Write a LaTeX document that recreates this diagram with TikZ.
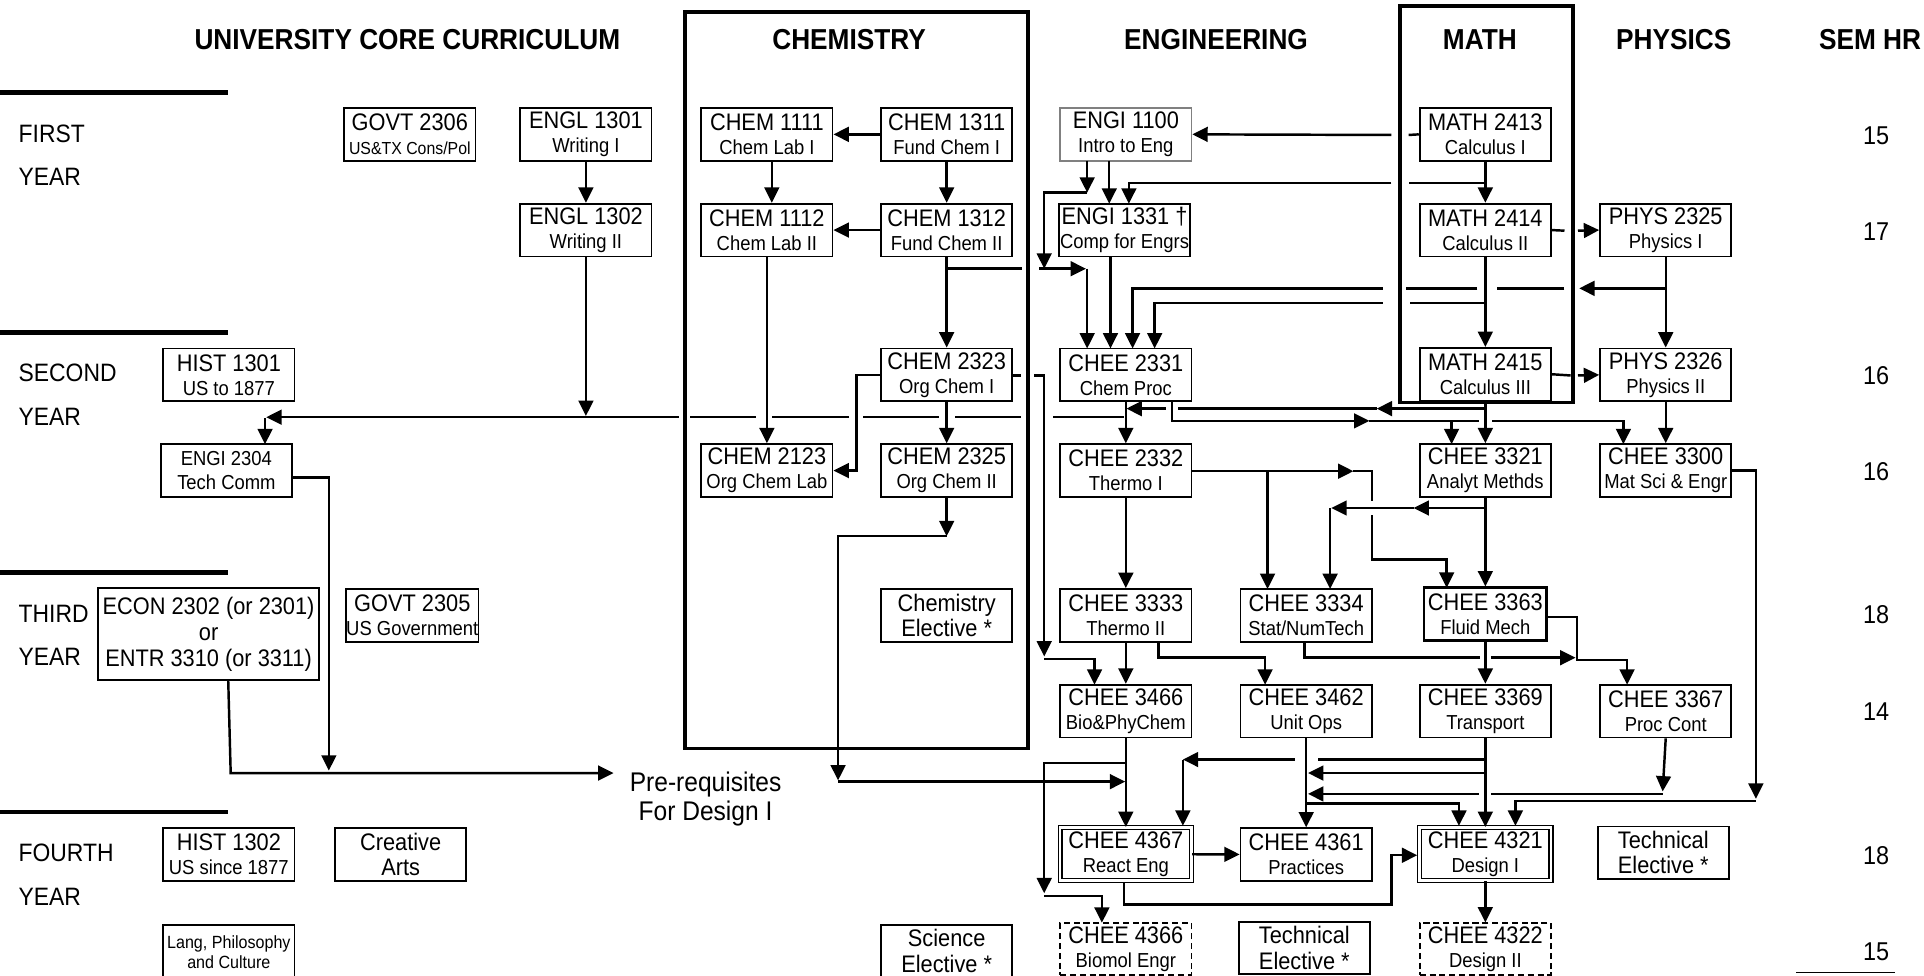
\documentclass[tikz,border=0pt]{standalone}
\usepackage{fontspec}
\setmainfont[FakeStretch=0.91]{Liberation Sans}
\usetikzlibrary{arrows.meta}
\newcommand\cT[1]{{\fontsize{19.5}{19.5}\selectfont #1}}
\newcommand\sm[1]{{\fontsize{14.2}{19.5}\selectfont #1}}
\tikzset{
 box/.style={draw, line width=1.5pt, minimum width=107pt, minimum height=43pt, inner sep=0pt, align=center, font=\fontsize{16.5}{19.5}\selectfont},
 bigtxt/.style={font=\fontsize{19.5}{20.5}\selectfont},
 dbox/.style={box, double, double distance=2pt, line width=1.1pt},
 dashbox/.style={box, dash pattern=on 5pt off 3pt},
 conn/.style={line width=2pt},
 arr/.style={line width=2pt, -{Triangle[length=12.5pt,width=12pt]}},
 hdr/.style={font=\bfseries\fontsize{23.5}{23.5}\selectfont, inner sep=0pt},
 yr/.style={font=\fontsize{20.5}{20.5}\selectfont, anchor=west, inner sep=0pt},
 hrs/.style={font=\fontsize{21}{21}\selectfont, inner sep=0pt},
 dept/.style={line width=3pt},
 ydiv/.style={line width=3.5pt},
}
\begin{document}
\begin{tikzpicture}[x=1pt,y=-1pt]
\useasboundingbox (0,0) rectangle (1568,795);

% headers
\node[hdr] (hU) at (332,32) {UNIVERSITY CORE CURRICULUM};
\node[hdr] (hC) at (692,32) {CHEMISTRY};
\node[hdr] (hE) at (991,32) {ENGINEERING};
\node[hdr] (hM) at (1206,32) {MATH};
\node[hdr] (hP) at (1364,32) {PHYSICS};
\node[hdr] (hS) at (1524,32) {SEM HR};

% department frames
\draw[dept] (558,10) rectangle (838,610);
\draw[dept] (1141,5) rectangle (1282,328);

% year dividers and labels
\draw[ydiv] (0,75.5) -- (186,75.5);
\draw[ydiv] (0,271) -- (186,271);
\draw[ydiv] (0,466.5) -- (186,466.5);
\draw[ydiv] (0,662) -- (186,662);
\node[yr] (y1a) at (15,109) {FIRST};
\node[yr] (y1b) at (15,144) {YEAR};
\node[yr] (y2a) at (15,304) {SECOND};
\node[yr] (y2b) at (15,339.5) {YEAR};
\node[yr] (y3a) at (15,500) {THIRD};
\node[yr] (y3b) at (15,535) {YEAR};
\node[yr] (y4a) at (15,695) {FOURTH};
\node[yr] (y4b) at (15,731) {YEAR};

% semester hours
\node[hrs] (h1) at (1529,111) {15};
\node[hrs] (h2) at (1529,189) {17};
\node[hrs] (h3) at (1529,306) {16};
\node[hrs] (h4) at (1529,384.5) {16};
\node[hrs] (h5) at (1529,501) {18};
\node[hrs] (h6) at (1529,580) {14};
\node[hrs] (h7) at (1529,697.5) {18};
\node[hrs] (h8) at (1529,775.5) {15};
\draw[line width=1.5pt] (1464,792.5) -- (1544,792.5);

% core curriculum
\node[box] (govtA) at (334,109.5) {\cT{GOVT 2306}\\\sm{US\&TX Cons/Pol}};
\node[box] (engl1) at (477.5,109.5) {\cT{ENGL 1301}\\Writing I};
\node[box] (engl2) at (477.5,187.5) {\cT{ENGL 1302}\\Writing II};
\node[box] (hist1) at (186.5,305.5) {\cT{HIST 1301}\\US to 1877};
\node[box] (engi2304) at (184.5,383.5) {ENGI 2304\\Tech Comm};
\node[box, minimum width=180pt, minimum height=75pt, font=\fontsize{19.5}{21}\selectfont] (econ) at (170,517) {ECON 2302 (or 2301)\\or\\ENTR 3310 (or 3311)};
\node[box, minimum width=108pt] (govtB) at (336,501.5) {\cT{GOVT 2305}\\US Government};
\node[box] (hist2) at (186.5,696.5) {\cT{HIST 1302}\\US since 1877};
\node[box, bigtxt] (arts) at (326.5,696.5) {Creative\\Arts};
\node[box, minimum height=44pt, font=\fontsize{14.4}{16}\selectfont] (lang) at (186.5,776) {Lang, Philosophy\\and Culture};

% chemistry
\node[box] (ch1111) at (625,109.5) {\cT{CHEM 1111}\\Chem Lab I};
\node[box] (ch1311) at (771.5,109.5) {\cT{CHEM 1311}\\Fund Chem I};
\node[box] (ch1112) at (625,187.5) {\cT{CHEM 1112}\\Chem Lab II};
\node[box] (ch1312) at (771.5,187.5) {\cT{CHEM 1312}\\Fund Chem II};
\node[box] (ch2323) at (771.5,305.5) {\cT{CHEM 2323}\\Org Chem I};
\node[box] (ch2123) at (625,383.5) {\cT{CHEM 2123}\\Org Chem Lab};
\node[box] (ch2325) at (771.5,383.5) {\cT{CHEM 2325}\\Org Chem II};
\node[box, bigtxt] (chel) at (771.5,501.5) {Chemistry\\Elective *};
\node[box, bigtxt, minimum height=42pt] (sciel) at (771.5,775) {Science\\Elective *};

% engineering
\node[box, draw=black!50] (e1100) at (917.5,109.5) {\cT{ENGI 1100}\\Intro to Eng};
\node[box] (e1331) at (916.5,187.5) {\cT{ENGI 1331 †}\\Comp for Engrs};
\node[box] (c2331) at (917.5,305.5) {\cT{CHEE 2331}\\Chem Proc};
\node[box] (c2332) at (917.5,383.5) {\cT{CHEE 2332}\\Thermo I};
\node[box] (c3333) at (917.5,501.5) {\cT{CHEE 3333}\\Thermo II};
\node[box] (c3466) at (917.5,579.5) {\cT{CHEE 3466}\\Bio\&PhyChem};
\node[dbox] (c4367) at (917.5,696) {\cT{CHEE 4367}\\React Eng};
\node[dashbox, minimum height=42pt] (c4366) at (917.5,773.5) {\cT{CHEE 4366}\\Biomol Engr};
\node[box] (c3334) at (1064.5,501.5) {\cT{CHEE 3334}\\Stat/NumTech};
\node[box] (c3462) at (1064.5,579.5) {\cT{CHEE 3462}\\Unit Ops};
\node[box] (c4361) at (1064.5,696.5) {\cT{CHEE 4361}\\Practices};
\node[box, bigtxt, minimum height=42pt] (tech1) at (1063,772.5) {Technical\\Elective *};

% math
\node[box] (m2413) at (1210.5,109.5) {\cT{MATH 2413}\\Calculus I};
\node[box] (m2414) at (1210.5,187.5) {\cT{MATH 2414}\\Calculus II};
\node[box] (m2415) at (1210.5,305) {\cT{MATH 2415}\\Calculus III};
\node[box] (c3321) at (1210.5,383.5) {\cT{CHEE 3321}\\Analyt Methds};
\node[box, line width=2.2pt, minimum width=100pt] (c3363) at (1210.5,500.5) {\cT{CHEE 3363}\\Fluid Mech};
\node[box] (c3369) at (1210.5,579.5) {\cT{CHEE 3369}\\Transport};
\node[dbox] (c4321) at (1210.5,696) {\cT{CHEE 4321}\\Design I};
\node[dashbox, minimum height=42pt] (c4322) at (1210.5,773.5) {\cT{CHEE 4322}\\Design II};

% physics
\node[box] (p2325) at (1357.5,187.5) {\cT{PHYS 2325}\\Physics I};
\node[box] (p2326) at (1357.5,305.5) {\cT{PHYS 2326}\\Physics II};
\node[box] (c3300) at (1357.5,383.5) {\cT{CHEE 3300}\\Mat Sci \& Engr};
\node[box] (c3367) at (1357.5,579.5) {\cT{CHEE 3367}\\Proc Cont};
\node[box, bigtxt] (tech2) at (1355.5,695) {Technical\\Elective *};

% pre-requisites label
\node[font=\fontsize{22}{24}\selectfont, align=center, inner sep=0pt] (pre) at (575,651) {Pre-requisites\\For Design I};

% ---------------- connectors ----------------
% English
\draw[arr] (engl1) -- (engl2);
\draw[arr] (engl2.south) -- (477.5,339);

% Chemistry
\draw[arr] (ch1311) -- (ch1111);
\draw[arr] (ch1312) -- (ch1112);
\draw[arr] ([xshift=4pt]ch1111.south) -- ([xshift=4pt]ch1112.north);
\draw[arr] (ch1311) -- (ch1312);
\draw[arr] (ch1112) -- (ch2123);
\draw[arr] (ch1312) -- (ch2323);
\draw[arr] (ch2323) -- (ch2325);
\draw[arr] (ch2323.west) -- (698,305.5) -- (698,383.5) -- (ch2123.east);

% CHEM 1312 / ENGI 1100 -> CHEE 2331
\draw[conn] (771.5,219) -- (833,219);
\draw[arr] (847,219) -- (885,219);
\draw[arr] (886,219) -- (886,284);
\draw[arr] (886,131) -- (886,157);
\draw[arr] (886,157) -- (851,157) -- (851,219);
\draw[arr] (904,131) -- (904,166);
\draw[arr] (905,209) -- (905,284);

% MATH 2413 -> ENGI 1100, ENGI 1331
\draw[conn] (m2413.west) -- (1148,110);
\draw[arr] (1134,110) -- (e1100.east);
\draw[conn] (1210.5,149) -- (1148,149);
\draw[arr] (1134,149) -- (920,149) -- (920,166);

% Math chain
\draw[arr] (m2413) -- (m2414);
\draw[arr] (m2414) -- (m2415);
\draw[arr] (m2415) -- (c3321);
\draw[conn] (m2414.east) -- (1275,188);
\draw[arr] (1286,188) -- (p2325.west);
\draw[conn] (1210.5,247) -- (1149,247);
\draw[arr] (1127,247) -- (941,247) -- (941,284);

% Physics
\draw[arr] (p2325) -- (p2326);
\draw[arr] (1357.5,235) -- (1287,235);
\draw[conn] (1275,235) -- (1220,235);
\draw[conn] (1204,235) -- (1146,235);
\draw[arr] (1127,235) -- (923,235) -- (923,284);
\draw[conn] (m2415.east) -- (1280,306);
\draw[arr] (1286,306) -- (p2326.west);
\draw[arr] (p2326) -- (c3300);

% MATH 2415 -> CHEE 2331 line (y 333)
\draw[arr] (1210.5,333) -- (1122,333);
\draw[conn] (1122,333) -- (960,333);
\draw[arr] (950,333) -- (918,333);

% CHEE 2331 -> CHEE 3321, CHEE 3300 (y 343)
\draw[arr] (955,327) -- (955,343) -- (1116,343);
\draw[arr] (1116,343) -- (1183,343) -- (1183,362);
\draw[conn] (1183,343) -- (1205,343);
\draw[arr] (1216,343) -- (1323,343) -- (1323,362);

% CHEE 2331 -> ENGI 2304 (y 340, broken at crossings)
\draw[conn] (916,340) -- (858,340);
\draw[conn] (832,340) -- (778,340);
\draw[conn] (765,340) -- (703,340);
\draw[conn] (692,340) -- (629,340);
\draw[conn] (616,340) -- (562,340);
\draw[arr] (553,340) -- (217,340);
\draw[arr] (216,341) -- (216,362);
\draw[arr] (c2331) -- (c2332);

% CHEE 2332
\draw[arr] (c2332.east |- 0,384) -- (1103,384);
\draw[conn] (1103,384) -- (1118,384) -- (1118,408);
\draw[arr] (1118,420) -- (1118,456) -- (1179,456) -- (1179,479);
\draw[arr] (1033,384) -- (1033,480);
\draw[arr] (c2332) -- (c3333);

% CHEE 3321 -> CHEE 3334, CHEE 3363
\draw[arr] (1210.5,414) -- (1152,414);
\draw[arr] (1152,414) -- (1085,414);
\draw[arr] (1084,414) -- (1084,480);
\draw[arr] (c3321) -- (c3363);

% CHEE 3333
\draw[arr] (c3333) -- (c3466);
\draw[arr] (944,523) -- (944,536) -- (1031,536) -- (1031,558);

% CHEM 2323 -> CHEE 3466
\draw[conn] (825,306) -- (832,306);
\draw[arr] (843,306) -- (851,306) -- (851,535);
\draw[arr] (851,537) -- (892,537) -- (892,558);

% CHEE 3334 / 3363 -> CHEE 3367
\draw[conn] (1063,523) -- (1063,536) -- (1206,536);
\draw[arr] (1215,536) -- (1284,536);
\draw[arr] (c3363.east |- 0,503) -- (1285,503) -- (1285,538) -- (1326,538) -- (1326,558);
\draw[arr] (c3363) -- (c3369);

% CHEM 2325 -> design prerequisites
\draw[arr] (ch2325.south) -- (771.5,437);
\draw[arr] (771.5,437) -- (683,437) -- (683,636);
\draw[arr] (683,637) -- (917,637);

% CHEE 3466
\draw[arr] (c3466) -- (c4367);
\draw[arr] (917.5,622) -- (851,622) -- (851,728);
\draw[arr] (851,730) -- (898,730) -- (898,752);

% Transport, Unit Ops, Proc Cont
\draw[conn] (1210.5,619) -- (1074,619);
\draw[arr] (1055,619) -- (964,619);
\draw[arr] (964,619) -- (964,673);
\draw[arr] (1210.5,630) -- (1066,630);
\draw[arr] (c3367.south) -- (1355,645);
\draw[conn] (1355,647) -- (1215,647);
\draw[arr] (1205,647) -- (1066,647);
\draw[arr] (c3462) -- (c4361);
\draw[arr] (1064.5,655) -- (1189,655) -- (1189,673);
\draw[arr] (c3369) -- (c4321);
\draw[arr] (c3300.east) -- (1431,383.5) -- (1431,651);
\draw[arr] (1431,653) -- (1235,653) -- (1235,673);

% fourth year
\draw[arr] (c4367) -- (c4361);
\draw[arr] (916,719) -- (916,737) -- (1134,737) -- (1134,697) -- (1155,697);
\draw[arr] (c4321) -- (c4322);

% core -> prerequisites
\draw[arr] (engi2304.east |- 0,389) -- (268,389) -- (268,628);
\draw[arr] (186,554.5) -- (188,630) -- (500,630);
\end{tikzpicture}
\end{document}
